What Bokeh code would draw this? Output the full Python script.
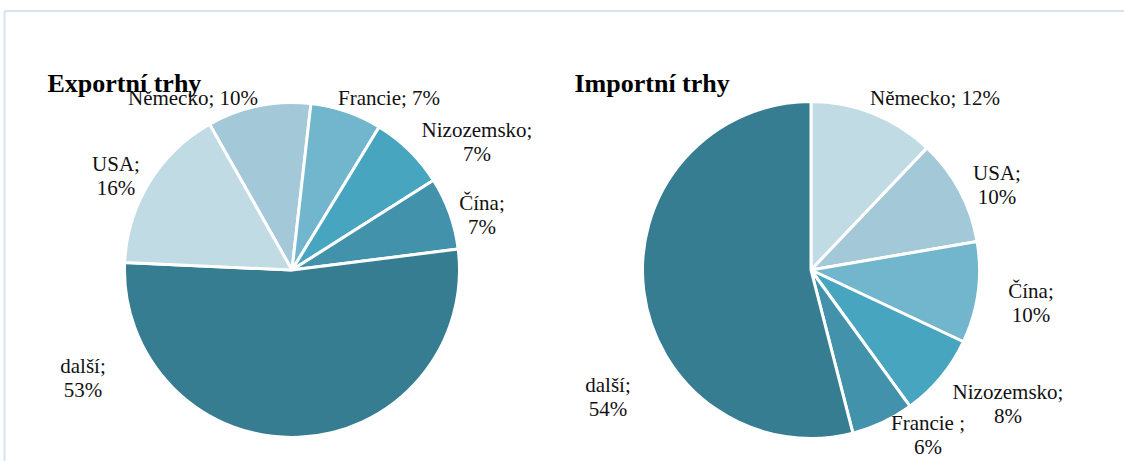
import numpy as np
from bokeh.plotting import figure
from bokeh.models import Range1d
from bokeh.core.properties import value
from bokeh.embed import file_html
from bokeh.resources import INLINE

# ---------------- data ----------------
export_names = ["Německo", "Francie", "Nizozemsko", "Čína", "další", "USA"]
export_values = [10.0, 6.9, 7.3, 7.0, 52.7, 16.1]
export_texts = ["Německo; 10%", "Francie; 7%", "Nizozemsko;\n7%", "Čína;\n7%", "další;\n53%", "USA;\n16%"]

import_names = ["Německo", "USA", "Čína", "Nizozemsko", "Francie", "další"]
import_values = [12.1, 10.2, 9.7, 8.0, 6.0, 54.0]
import_texts = ["Německo; 12%", "USA;\n10%", "Čína;\n10%", "Nizozemsko;\n8%", "Francie ;\n6%", "další;\n54%"]

# ---------------- styles / layout ----------------
export_colors = ["#a3c9d9", "#71b6cc", "#47a5bf", "#4192aa", "#367d91", "#c1dbe4"]
import_colors = ["#c1dbe4", "#a3c9d9", "#71b6cc", "#47a5bf", "#4192aa", "#367d91"]

# label offsets (px) relative to pie centre, screen coords (y down)
export_label_off = [(-99, -172), (97, -172), (185, -128), (190, -55), (-209, 108), (-176, -94)]
import_label_off = [(124, -172), (186, -85), (220, 33), (197, 134), (117, 165), (-203, 127)]

W, H = 1124, 461


def Y(sy):
    return H - sy


p = figure(width=W, height=H, output_backend="svg", toolbar_location=None,
           x_range=Range1d(0, W), y_range=Range1d(0, H),
           x_axis_type=None, y_axis_type=None, min_border=0,
           background_fill_color="white", border_fill_color="white")
p.grid.visible = False
p.outline_line_color = None

# frame lines (chart area border)
p.segment(x0=[4, 4], y0=[Y(10.5), Y(10.5)], x1=[W, 4], y1=[Y(10.5), Y(H)],
          line_color="#d9e2f1", line_width=2)

FONT = value("Liberation Serif")


def add_pie(cx, cy, r, values, colors, start_deg, texts, offs, title, title_x):
    v = np.asarray(values, dtype=float)
    frac = v / v.sum()
    cum = np.concatenate([[0.0], np.cumsum(frac)]) * 2 * np.pi
    t0 = np.deg2rad(start_deg)
    th1 = t0 + cum[:-1]
    th2 = t0 + cum[1:]
    p.wedge(x=cx, y=Y(cy), radius=r,
            start_angle=list(np.pi / 2 - th2), end_angle=list(np.pi / 2 - th1),
            fill_color=colors, line_color="white", line_width=3)
    lx = [cx + o[0] for o in offs]
    ly = [Y(cy + o[1]) for o in offs]
    p.text(x=lx, y=ly, text=texts, text_font=FONT, text_font_size="21px",
           text_align="center", text_baseline="middle", text_color="#111111",
           text_line_height=1.0)
    p.text(x=[title_x], y=[Y(83)], text=[title], text_font=FONT, text_font_size="26px",
           text_font_style="bold", text_align="left", text_baseline="alphabetic",
           text_color="#000000")


add_pie(291.5, 269.5, 167.5, export_values, export_colors, 330.5,
        export_texts, export_label_off, "Exportní trhy", 47)
add_pie(810.5, 269.5, 168.5, import_values, import_colors, 0.0,
        import_texts, import_label_off, "Importní trhy", 574)

open("out.html", "w").write(file_html(p, INLINE))
